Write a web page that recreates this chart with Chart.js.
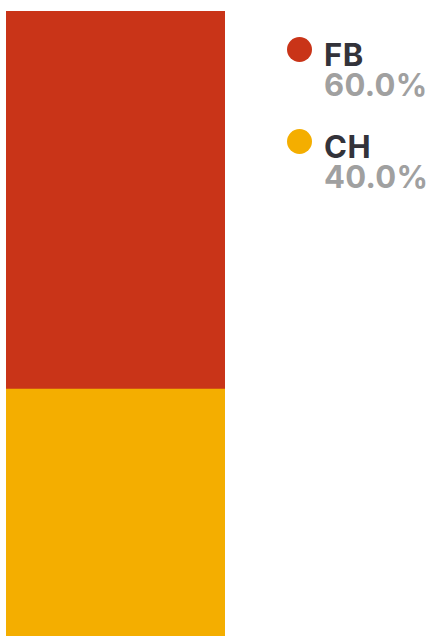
<!DOCTYPE html>
<html>
<head>
<meta charset="utf-8">
<script src="https://cdn.jsdelivr.net/npm/chart.js@4"></script>
<style>
  html, body { margin: 0; padding: 0; background: #fff; overflow: hidden; }
  body { width: 430px; height: 636px; position: relative; font-family: Inter, 'Open Sans', sans-serif; }
  #wrap { position: absolute; left: 0; top: 0; width: 231px; height: 641px; }
  .item { position: absolute; left: 287px; }
  .dot { position: absolute; left: 0; top: 0; width: 25px; height: 25px; border-radius: 50%; }
  .name { position: absolute; left: 37px; top: 1px; font-size: 31px; font-weight: 700; color: #33333a; line-height: 34px; letter-spacing: 0.5px; }
  .pct { position: absolute; left: 37px; top: 31px; font-size: 31px; font-weight: 700; color: #a0a0a0; line-height: 34px; white-space: nowrap; letter-spacing: 0.3px; }
</style>
</head>
<body>
<div id="wrap"><canvas id="stackChart"></canvas></div>
<div id="legend"></div>
<script>
const categories = ['Total'];
const seriesNames = ['CH', 'FB'];
const chValues = [40];
const fbValues = [60];
const seriesColors = ['#f4ae00', '#c93418'];

const ctx = document.getElementById('stackChart').getContext('2d');

new Chart(ctx, {
    type: 'bar',
    data: {
        labels: categories,
        datasets: [
            { label: seriesNames[0], data: chValues, backgroundColor: seriesColors[0], borderWidth: 0 },
            { label: seriesNames[1], data: fbValues, backgroundColor: seriesColors[1], borderWidth: 0 }
        ]
    },
    options: {
        responsive: true,
        maintainAspectRatio: false,
        animation: false,
        layout: { padding: { left: 6, right: 6, top: 11, bottom: 0 } },
        datasets: { bar: { barPercentage: 1, categoryPercentage: 1 } },
        scales: {
            x: { stacked: true, display: false },
            y: { stacked: true, display: false, min: 0, max: 100 }
        },
        plugins: {
            legend: { display: false },
            tooltip: { enabled: false }
        }
    }
});

// legend on the right, top entry first
const legend = document.getElementById('legend');
const legendOrder = [
    { name: seriesNames[1], value: fbValues[0], color: seriesColors[1], top: 37 },
    { name: seriesNames[0], value: chValues[0], color: seriesColors[0], top: 129 }
];
legendOrder.forEach(entry => {
    const item = document.createElement('div');
    item.className = 'item';
    item.style.top = entry.top + 'px';
    item.innerHTML = `<div class="dot" style="background:${entry.color}"></div>` +
        `<div class="name">${entry.name}</div>` +
        `<div class="pct">${entry.value.toFixed(1)}%</div>`;
    legend.appendChild(item);
});
</script>
</body>
</html>
